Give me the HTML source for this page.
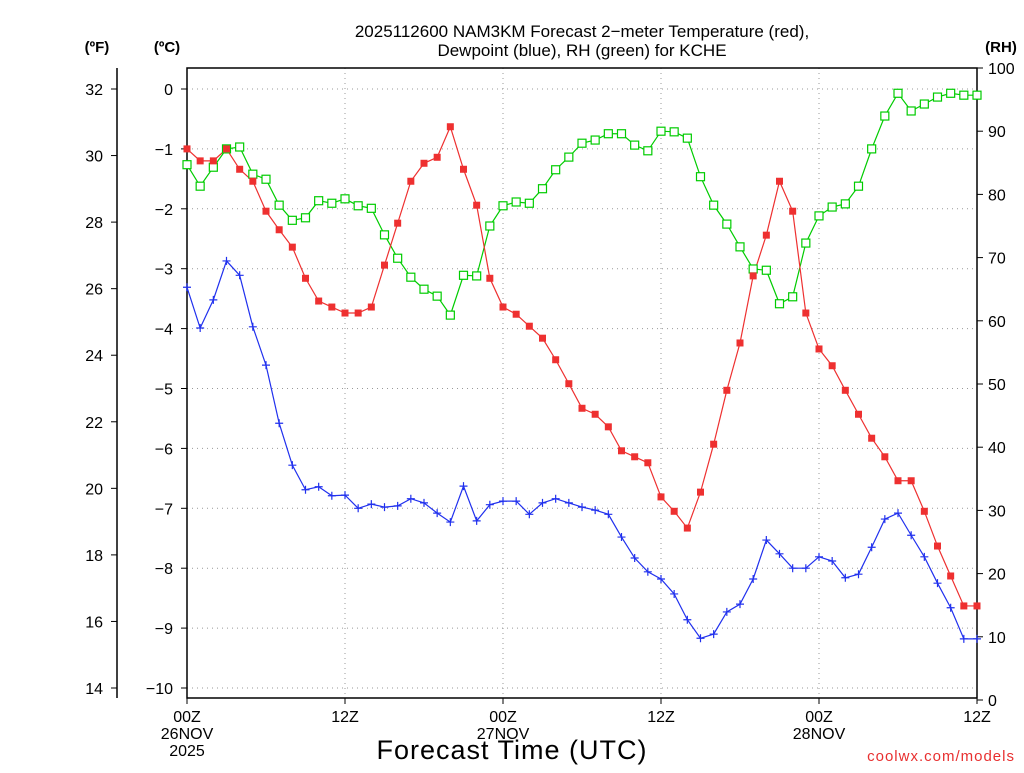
<!DOCTYPE html>
<html><head><meta charset="utf-8"><style>
body{margin:0;background:#fff;}
svg text{font-family:"Liberation Sans",sans-serif;}
</style></head><body>
<svg id="chart" width="1024" height="768" xmlns="http://www.w3.org/2000/svg">
<rect width="1024" height="768" fill="#fff"/>
<g id="grid"></g><g id="axes"></g><g id="series"></g>
<text x="582" y="37" font-size="17" text-anchor="middle">2025112600 NAM3KM Forecast 2−meter Temperature (red),</text>
<text x="582" y="56" font-size="17" text-anchor="middle">Dewpoint (blue), RH (green) for KCHE</text>
<text x="97" y="52" font-size="15" font-weight="bold" text-anchor="middle">(ºF)</text>
<text x="167" y="52" font-size="15" font-weight="bold" text-anchor="middle">(ºC)</text>
<text x="1001" y="52" font-size="15" font-weight="bold" text-anchor="middle">(RH)</text>
<text x="512" y="759" font-size="27" text-anchor="middle" letter-spacing="1">Forecast Time (UTC)</text>
<text x="1015" y="761" font-size="15" fill="#e83030" text-anchor="end" letter-spacing="1">coolwx.com/models</text>
</svg>
<script>
const hours = Array.from({length:61},(_,i)=>i);
const tempC = [-1.0,-1.2,-1.2,-1.0,-1.34,-1.54,-2.04,-2.35,-2.64,-3.16,-3.54,-3.64,-3.74,-3.74,-3.64,-2.94,-2.24,-1.54,-1.24,-1.14,-0.63,-1.34,-1.94,-3.16,-3.64,-3.76,-3.96,-4.16,-4.52,-4.92,-5.33,-5.43,-5.64,-6.04,-6.14,-6.24,-6.81,-7.05,-7.33,-6.73,-5.93,-5.03,-4.24,-3.12,-2.44,-1.54,-2.04,-3.74,-4.34,-4.62,-5.03,-5.43,-5.83,-6.14,-6.54,-6.54,-7.05,-7.63,-8.13,-8.63,-8.63];
const dewC = [-3.31,-3.99,-3.52,-2.87,-3.11,-3.97,-4.61,-5.58,-6.28,-6.69,-6.64,-6.79,-6.78,-7.0,-6.93,-6.98,-6.96,-6.84,-6.91,-7.08,-7.23,-6.63,-7.21,-6.94,-6.88,-6.88,-7.1,-6.91,-6.84,-6.91,-6.98,-7.03,-7.1,-7.48,-7.83,-8.06,-8.18,-8.43,-8.86,-9.17,-9.1,-8.73,-8.6,-8.18,-7.53,-7.76,-8.0,-8.0,-7.81,-7.88,-8.16,-8.1,-7.65,-7.18,-7.08,-7.45,-7.81,-8.25,-8.66,-9.18,-9.18];
const rh = [84.7,81.3,84.3,87.2,87.5,83.2,82.4,78.3,75.9,76.3,79.0,78.6,79.3,78.2,77.8,73.6,69.9,66.9,65.0,63.9,60.9,67.2,67.1,75.0,78.2,78.8,78.6,80.9,83.9,85.9,88.1,88.6,89.6,89.6,87.8,86.9,90.0,89.9,88.9,82.8,78.3,75.3,71.7,68.2,68.0,62.7,63.8,72.3,76.6,78.0,78.5,81.3,87.2,92.4,96.0,93.2,94.3,95.4,96.0,95.7,95.7];
const cTicks = [0,-1,-2,-3,-4,-5,-6,-7,-8,-9,-10];
const fTicks = [32,30,28,26,24,22,20,18,16,14];
const rhTicks = [0,10,20,30,40,50,60,70,80,90,100];
const xTickHours = [0,12,24,36,48,60];
const xTickLabels = [["00Z","26NOV","2025"],["12Z"],["00Z","27NOV"],["12Z"],["00Z","28NOV"],["12Z"]];

const NS="http://www.w3.org/2000/svg";
const X0=187,X1=977,Y0=68,Y1=698;
const xs=h=>X0+(X1-X0)*h/60;
const yc=c=>89+(0-c)*59.9;
const yf=f=>yc((f-32)*5/9);
const yr=r=>700-6.32*r;
function mk(tag,attrs,parent){const e=document.createElementNS(NS,tag);for(const k in attrs)e.setAttribute(k,attrs[k]);document.getElementById(parent).appendChild(e);return e;}
// grid
cTicks.forEach(c=>{const l=mk('line',{x1:X0,x2:X1,y1:yc(c),y2:yc(c),stroke:'#999','stroke-dasharray':'1,4'},'grid');

});
[12,24,36,48].forEach(h=>{const l=mk('line',{x1:xs(h),x2:xs(h),y1:Y0,y2:Y1,stroke:'#999','stroke-dasharray':'1,4'},'grid');

});
// frame
const fr=mk('rect',{x:X0,y:Y0,width:X1-X0,height:Y1-Y0,fill:'none',stroke:'#000','stroke-width':1.5},'axes');


const fa=mk('line',{x1:117,x2:117,y1:Y0,y2:Y1,stroke:'#000','stroke-width':1.5},'axes');


cTicks.forEach(c=>{mk('line',{x1:X0-6,x2:X0,y1:yc(c),y2:yc(c),stroke:'#000'},'axes');
const t=mk('text',{x:X0-14,y:yc(c)+6,'font-size':16,'text-anchor':'end'},'axes');t.textContent=c===0?'0':'−'+Math.abs(c);

});
fTicks.forEach(f=>{mk('line',{x1:111,x2:117,y1:yf(f),y2:yf(f),stroke:'#000'},'axes');
const t=mk('text',{x:103,y:yf(f)+6,'font-size':16,'text-anchor':'end'},'axes');t.textContent=f;

});
rhTicks.forEach(r=>{mk('line',{x1:X1,x2:X1+6,y1:yr(r),y2:yr(r),stroke:'#000'},'axes');
const t=mk('text',{x:988,y:yr(r)+6,'font-size':16},'axes');t.textContent=r;

});
xTickHours.forEach((h,i)=>{mk('line',{x1:xs(h),x2:xs(h),y1:Y1,y2:Y1+6,stroke:'#000'},'axes');
xTickLabels[i].forEach((s,j)=>{const t=mk('text',{x:xs(h),y:722+j*17,'font-size':16,'text-anchor':'middle'},'axes');t.textContent=s;

});});
// series
function line(vals,yfn,color,name){const p=mk('polyline',{points:vals.map((v,i)=>xs(hours[i])+','+yfn(v)).join(' '),fill:'none',stroke:color,'stroke-width':1.2},'series');

}
line(rh,yr,'#00cc00','rh-line');
line(tempC,yc,'#ee3030','temperature-line');
line(dewC,yc,'#2030ee','dewpoint-line');
rh.forEach((v,i)=>{const m=mk('rect',{x:xs(hours[i])-4,y:yr(v)-4,width:8,height:8,fill:'#fff',stroke:'#00cc00','stroke-width':1.2},'series');

});
tempC.forEach((v,i)=>{const m=mk('rect',{x:xs(hours[i])-3.5,y:yc(v)-3.5,width:7,height:7,fill:'#ee3030'},'series');

});
dewC.forEach((v,i)=>{const x=xs(hours[i]),y=yc(v);const m=mk('path',{d:`M${x-4},${y}H${x+4}M${x},${y-4}V${y+4}`,stroke:'#2030ee','stroke-width':1.2},'series');

});
</script>
</body></html>
